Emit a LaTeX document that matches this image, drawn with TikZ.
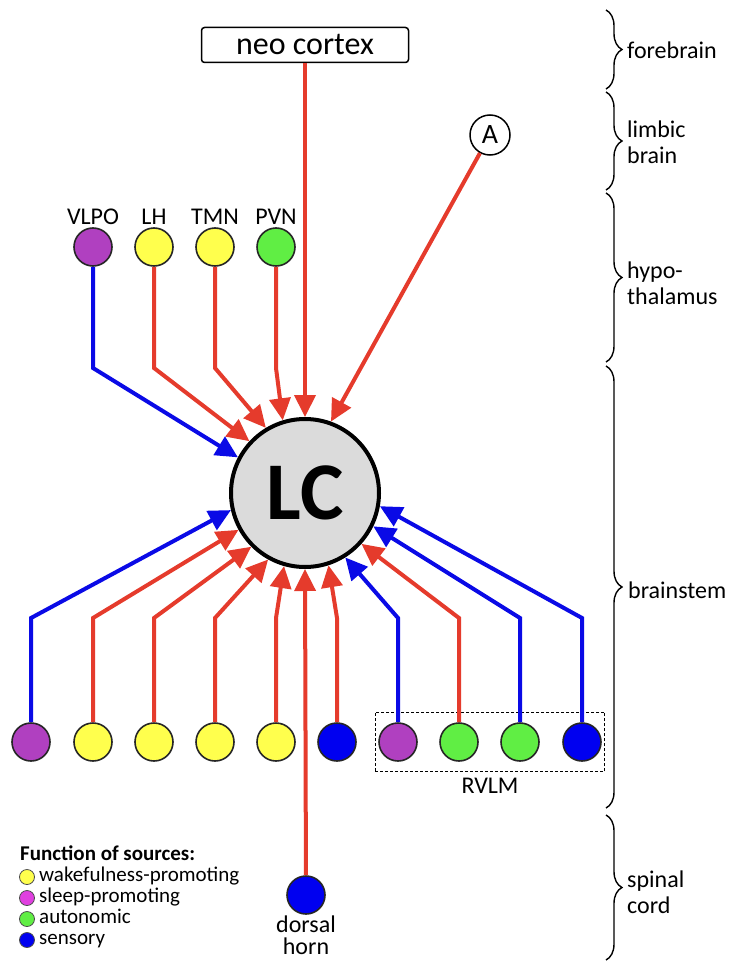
\documentclass[tikz,border=0pt]{standalone}
\usepackage{fontspec}
\setmainfont{Carlito}
\usetikzlibrary{arrows.meta,fit,positioning,decorations.pathreplacing}

\definecolor{wakeyel}{HTML}{FFFF4D}
\definecolor{sleeppur}{HTML}{B040C0}
\definecolor{sleepmag}{HTML}{E040E0}
\definecolor{autogrn}{HTML}{60EE44}
\definecolor{sensblu}{HTML}{0000F0}
\definecolor{exred}{HTML}{E53B2C}
\definecolor{inblu}{HTML}{0A0AE6}

\tikzset{
  lab/.style={font=\fontsize{24}{26}\selectfont},
  src/.style={circle, draw=black!85, line width=1.6pt, minimum size=38pt, inner sep=0pt},
  hypo/.style={src, label={[lab, label distance=-1pt]above:#1}},
  redarr/.style={draw=exred, line width=4pt, -{Triangle[length=22pt,width=21pt]}},
  bluarr/.style={draw=inblu, line width=4pt, -{Triangle[length=22pt,width=21pt]}},
  legdot/.style={circle, draw=black!70, line width=0.8pt, minimum size=15pt, inner sep=0pt},
  legtxt/.style={anchor=west, inner sep=0pt, text height=12pt, text depth=4pt, font=\fontsize{21}{22}\selectfont},
  region/.style={decorate, decoration={brace, amplitude=16pt}, line width=1.4pt},
  regtxt/.style={lab, anchor=west, align=left, inner sep=0pt},
}

\begin{document}
\begin{tikzpicture}[x=1pt,y=-1pt]
    \useasboundingbox (0,0) rectangle (731,963);

    % LC and the upper sources
    \node[circle, draw, line width=4pt, fill=black!14, minimum size=148pt, inner sep=0pt,
          font=\fontsize{82}{82}\selectfont\bfseries] at (305,493) (LC) {LC};
    \node[draw, line width=1.5pt, rounded corners=3pt, minimum width=207pt, minimum height=35pt,
          inner sep=0pt, font=\fontsize{32}{32}\selectfont] at (305,45) (neo) {neo cortex};
    \node[circle, draw, line width=1.5pt, minimum size=40pt, inner sep=0pt,
          font=\fontsize{28}{28}\selectfont] at (490,135) (A) {A};

    \node[hypo=VLPO, fill=sleeppur] at (93,247) (VLPO) {};
    \node[hypo=LH, fill=wakeyel] at (154,247) (LH) {};
    \node[hypo=TMN, fill=wakeyel] at (215,247) (TMN) {};
    \node[hypo=PVN, fill=autogrn] at (276,247) (PVN) {};

    % brainstem row
    \node[src, fill=sleeppur] at (31,742) (b1) {};
    \node[src, fill=wakeyel] at (93,742) (b2) {};
    \node[src, fill=wakeyel] at (154,742) (b3) {};
    \node[src, fill=wakeyel] at (215,742) (b4) {};
    \node[src, fill=wakeyel] at (276,742) (b5) {};
    \node[src, fill=sensblu] at (337,742) (b6) {};
    \node[src, fill=sleeppur] at (398,742) (r1) {};
    \node[src, fill=autogrn] at (459,742) (r2) {};
    \node[src, fill=autogrn] at (520,742) (r3) {};
    \node[src, fill=sensblu] at (582,742) (r4) {};
    \node[draw, line width=1pt, dash pattern=on 3pt off 2pt, fit=(r1)(r4),
          inner xsep=3pt, inner ysep=10pt, label={[lab, label distance=2pt]below:RVLM}] (rvlm) {};

    % spinal cord
    \node[src, fill=sensblu] at (306,895) (dh) {};
    \node[align=center, below=1pt of dh, inner sep=0pt, font=\fontsize{24}{22}\selectfont] (dhtxt) {dorsal\\horn};

    \coordinate (tbend) at (0,368);
    \coordinate (bbend) at (0,618);

    % inputs from above
    \draw[bluarr] (VLPO) -- (VLPO |- tbend) -- (LC.152);
    \draw[redarr] (LH) -- (LH |- tbend) -- (LC.137);
    \draw[redarr] (TMN) -- (TMN |- tbend) -- (LC.121);
    \draw[redarr] (PVN) -- (PVN |- tbend) -- (LC.107);
    \draw[redarr] (neo) -- (LC.90);
    \draw[redarr] (A) -- (LC.70);

    % inputs from below
    \draw[bluarr] (b1) -- (b1 |- bbend) -- (LC.193);
    \draw[redarr] (b2) -- (b2 |- bbend) -- (LC.209);
    \draw[redarr] (b3) -- (b3 |- bbend) -- (LC.225);
    \draw[redarr] (b4) -- (b4 |- bbend) -- (LC.241);
    \draw[redarr] (b5) -- (b5 |- bbend) -- (LC.254);
    \draw[redarr] (dh) -- (LC.270);
    \draw[redarr] (b6) -- (b6 |- bbend) -- (LC.288);
    \draw[bluarr] (r1) -- (r1 |- bbend) -- (LC.302);
    \draw[redarr] (r2) -- (r2 |- bbend) -- (LC.318);
    \draw[bluarr] (r3) -- (r3 |- bbend) -- (LC.334);
    \draw[bluarr] (r4) -- (r4 |- bbend) -- (LC.350);

    % legend
    \node[anchor=west, inner sep=0pt, font=\fontsize{21}{23}\selectfont\bfseries] at (20,853) (legtitle) {Function of sources:};
    \node[legdot, fill=wakeyel] at (27,877) (d1) {};
    \node[legdot, fill=sleepmag] at (27,898) (d2) {};
    \node[legdot, fill=autogrn] at (27,919) (d3) {};
    \node[legdot, fill=sensblu] at (27,940) (d4) {};
    \node[legtxt] at (39,877) (t1) {wakefulness-promoting};
    \node[legtxt] at (39,898) (t2) {sleep-promoting};
    \node[legtxt] at (39,919) (t3) {autonomic};
    \node[legtxt] at (39,940) (t4) {sensory};

    % brain regions
    \draw[region] (606,10) -- (606,89) coordinate[midway] (fb);
    \draw[region] (606,92) -- (606,190) coordinate[midway] (lb);
    \draw[region] (606,193) -- (606,362) coordinate[midway] (ht);
    \draw[region] (606,366) -- (606,808) coordinate[midway] (bs);
    \draw[region] (606,815) -- (606,960) coordinate[midway] (sc);
    \node[regtxt] at (627,50) (fbtxt) {forebrain};
    \node[regtxt] at (627,142) (lbtxt) {limbic\\brain};
    \node[regtxt] at (627,283) (httxt) {hypo-\\thalamus};
    \node[regtxt] at (628,590) (bstxt) {brainstem};
    \node[regtxt] at (627,892) (sctxt) {spinal\\cord};
\end{tikzpicture}
\end{document}
